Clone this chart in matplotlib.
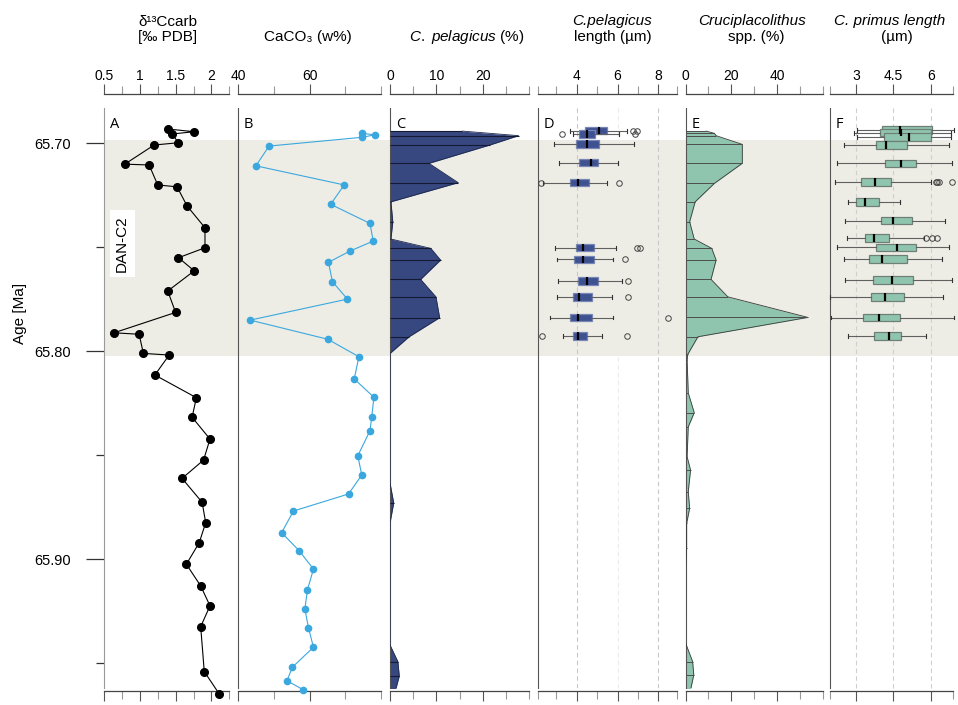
import matplotlib.pyplot as plt

plt.rcParams['font.family'] = ['Liberation Sans', 'DejaVu Sans']
plt.rcParams['mathtext.fontset'] = 'custom'
plt.rcParams['mathtext.rm'] = 'Liberation Sans'
plt.rcParams['mathtext.it'] = 'Liberation Sans:italic'

# ---- A: d13C carb ----
a_age = [65.6931, 65.6944, 65.6955, 65.6997, 65.7008, 65.7100, 65.7104, 65.7200, 65.7209,
         65.7301, 65.7406, 65.7502, 65.7550, 65.7613, 65.7710, 65.7813, 65.7911, 65.7918,
         65.8010, 65.8018, 65.8114, 65.8223, 65.8317, 65.8422, 65.8523, 65.8611, 65.8726,
         65.8824, 65.8920, 65.9024, 65.9128, 65.9224, 65.9324, 65.9540, 65.9648]
a_val = [1.39, 1.76, 1.45, 1.54, 1.20, 0.79, 1.13, 1.25, 1.52, 1.66, 1.91, 1.91, 1.54, 1.76,
         1.39, 1.50, 0.64, 0.99, 1.05, 1.41, 1.21, 1.79, 1.73, 1.98, 1.89, 1.59, 1.87, 1.92,
         1.83, 1.65, 1.85, 1.98, 1.85, 1.90, 2.11]

# ---- B: CaCO3 ----
b_age = [65.6952, 65.6959, 65.6971, 65.7013, 65.7108, 65.7200, 65.7293, 65.7385, 65.7470,
         65.7518, 65.7572, 65.7665, 65.7749, 65.7850, 65.7942, 65.8026, 65.8133, 65.8221,
         65.8314, 65.8382, 65.8502, 65.8595, 65.8686, 65.8768, 65.8872, 65.8959, 65.9047,
         65.9148, 65.9239, 65.9329, 65.9423, 65.9519, 65.9584, 65.9628]
b_val = [74.6, 78.3, 74.6, 48.7, 45.0, 69.7, 65.9, 76.9, 77.8, 71.3, 65.3, 66.4, 70.6, 43.4,
         65.1, 73.8, 72.5, 78.0, 77.4, 76.9, 73.5, 74.6, 70.9, 55.5, 52.2, 57.1, 61.1, 59.4,
         58.7, 59.7, 61.1, 55.2, 53.7, 58.3]

# ---- C: C. pelagicus (%) ----
c_age = [65.6941, 65.6963, 65.7008, 65.7096, 65.7189, 65.7281, 65.7377, 65.7460, 65.7505,
         65.7561, 65.7654, 65.7738, 65.7838, 65.7930, 65.8010, 65.8633, 65.8729, 65.8825,
         65.9412, 65.9492, 65.9561, 65.9628]
c_val = [15.6, 27.7, 21.5, 8.4, 14.7, 0.2, 0.6, 0.2, 8.8, 10.9, 6.6, 9.9, 10.7, 4.1, 0.0,
         0.0, 0.8, 0.0, 0.0, 1.7, 2.0, 1.2]

# ---- D: C. pelagicus length (um) ----
d_age = [65.6939, 65.6955, 65.7003, 65.7093, 65.7189, 65.7502, 65.7558, 65.7661, 65.7738,
         65.7838, 65.7926]
d_lo = [3.67, 3.83, 2.90, 3.15, 2.36, 2.94, 3.02, 3.10, 3.02, 2.69, 3.31]
d_q1 = [4.41, 4.13, 3.96, 4.13, 3.67, 3.95, 3.87, 4.05, 3.83, 3.67, 3.83]
d_med = [5.09, 4.52, 4.49, 4.70, 4.08, 4.33, 4.29, 4.52, 4.13, 4.05, 4.05]
d_q3 = [5.47, 4.90, 5.09, 5.06, 4.59, 4.85, 4.85, 5.04, 4.73, 4.73, 4.50]
d_hi = [6.45, 6.09, 6.81, 6.04, 5.50, 5.93, 5.76, 6.24, 5.71, 5.76, 5.22]
d_out = [[6.77, 6.94], [3.26, 6.86], [], [], [2.23, 6.09], [6.94, 7.10], [6.37], [6.53],
         [6.50], [8.46], [2.32, 6.45]]

# ---- E: Cruciplacolithus spp. (%) ----
e_age = [65.6941, 65.6952, 65.6963, 65.7005, 65.7096, 65.7192, 65.7281, 65.7377, 65.7460,
         65.7505, 65.7561, 65.7654, 65.7738, 65.7837, 65.7930, 65.8014, 65.8042, 65.8200,
         65.8295, 65.8363, 65.8507, 65.8571, 65.8675, 65.8755, 65.8827, 65.8947, 65.9036,
         65.9162, 65.9402, 65.9492, 65.9556, 65.9628]
e_val = [9.0, 12.6, 13.3, 24.7, 24.7, 12.6, 4.2, 1.8, 3.8, 11.4, 13.3, 11.1, 18.4, 53.2,
         5.4, 1.0, 0.7, 1.2, 3.8, 1.2, 0.7, 2.2, 1.2, 1.8, 0.5, 0.5, 0.1, 0.1, 0.0, 3.1,
         3.6, 2.2]

# ---- F: C. primus length (um) ----
f_age = [65.6935, 65.6949, 65.6970, 65.7008, 65.7096, 65.7185, 65.7281, 65.7372, 65.7454,
         65.7500, 65.7556, 65.7656, 65.7738, 65.7838, 65.7926]
f_lo = [3.04, 2.91, 3.04, 2.50, 2.24, 2.15, 2.67, 2.53, 2.64, 2.24, 2.50, 2.56, 1.94, 1.99, 2.67]
f_q1 = [4.04, 3.97, 4.12, 3.81, 4.14, 3.18, 3.00, 4.01, 3.36, 3.81, 3.50, 3.67, 3.58, 3.26, 3.70]
f_med = [4.75, 4.82, 5.11, 4.21, 4.79, 3.74, 3.36, 4.48, 3.70, 4.64, 4.05, 4.45, 4.14, 3.90, 4.33]
f_q3 = [6.07, 6.00, 6.00, 5.04, 5.42, 4.39, 3.92, 5.26, 4.33, 5.39, 5.04, 5.30, 4.91, 4.75, 4.79]
f_hi = [6.94, 6.81, 6.81, 6.74, 6.86, 6.03, 4.75, 6.59, 5.72, 6.74, 6.47, 6.86, 6.50, 6.94, 5.82]
f_out = [[], [], [], [], [], [6.22, 6.27, 6.32, 6.86], [], [], [5.82, 6.05, 6.27], [], [], [],
         [], [], []]

# DAN-C2 interval
band = (65.6984, 65.8023)

W, H = 958, 705
fig = plt.figure(figsize=(W / 100, H / 100), dpi=100)

edges = [104, 238, 390, 538, 685.5, 830, 958]
top_px, bot_px = 108, 688
ylim = (65.9619, 65.6830)


def make_panel(i, xlim, bounds, major, labels, minor, letter):
    x0, x1 = edges[i], edges[i + 1]
    ax = fig.add_axes([x0 / W, 1 - bot_px / H, (x1 - x0) / W, (bot_px - top_px) / H])
    ax.patch.set_alpha(0)
    ax.set_xlim(xlim)
    ax.set_ylim(ylim)
    ax.axhspan(band[0], band[1], color='#eeede5', lw=0, zorder=0)
    ax.spines['right'].set_visible(False)
    ax.spines['left'].set_color('#555555')
    ax.spines['top'].set_position(('outward', 10))
    ax.spines['bottom'].set_position(('outward', 2))
    for s in ['top', 'bottom']:
        ax.spines[s].set_bounds(*bounds)
        ax.spines[s].set_color('#444444')
        ax.spines[s].set_linewidth(0.9)
    ax.set_xticks(major)
    ax.set_xticklabels(labels)
    ax.set_xticks(minor, minor=True)
    ax.tick_params(axis='x', which='both', direction='out', top=True, bottom=True,
                   labeltop=True, labelbottom=False, labelsize=10, pad=1, width=0.8)
    ax.tick_params(axis='x', which='major', length=7, color='#555555')
    ax.tick_params(axis='x', which='minor', length=5.5, color='#999999')
    ax.tick_params(axis='y', which='both', left=False, labelleft=False)
    ax.annotate(letter, xy=(0, 1), xycoords='axes fraction', xytext=(6, -17),
                textcoords='offset pixels', va='center', ha='left', fontsize=10.5,
                family=['Open Sans', 'DejaVu Sans'])
    return ax


axA = make_panel(0, (0.5, 2.371), (0.5, 2.25), [0.5, 1, 1.5, 2], ['0.5', '1', '1.5', '2'],
                 [0.75, 1.25, 1.75, 2.25], 'A')
axB = make_panel(1, (40, 82.5), (40, 80), [40, 60], ['40', '60'], [50, 70, 80], 'B')
axC = make_panel(2, (0, 31.9), (0, 30), [0, 10, 20], ['0', '10', '20'], [5, 15, 25, 30], 'C')
axD = make_panel(3, (2.103, 9.333), (2.103, 8.9), [4, 6, 8], ['4', '6', '8'],
                 [2.103, 3, 5, 7, 8.9], 'D')
axE = make_panel(4, (0, 62.83), (0, 60), [0, 20, 40], ['0', '20', '40'], [10, 30, 50, 60], 'E')
axF = make_panel(5, (1.94, 7.101), (1.94, 6.9), [3, 4.5, 6], ['3', '4.5', '6'], [1.94, 6.9], 'F')

# age axis on the first panel
axA.spines['left'].set_color('#999999')
axA.set_yticks([65.70, 65.80, 65.90])
axA.set_yticklabels(['65.70', '65.80', '65.90'])
axA.set_yticks([65.75, 65.85, 65.95], minor=True)
axA.tick_params(axis='y', which='both', left=True, labelleft=True, labelsize=10.5,
                pad=11, color='#333333', width=0.9)
axA.tick_params(axis='y', which='major', length=13)
axA.tick_params(axis='y', which='minor', length=6)
fig.text(20 / W, 1 - 313 / H, 'Age [Ma]', rotation=90, ha='center', va='center', fontsize=11)

axA.text(0.5 + 18 / 71.6, 65.7482, 'DAN-C2', rotation=90, ha='center', va='center',
         fontsize=11, bbox=dict(facecolor='white', edgecolor='none', pad=4), zorder=4)

# A and B curves
axA.plot(a_val, a_age, '-o', color='black', lw=0.8, ms=5.5, clip_on=False, zorder=3)
axB.plot(b_val, b_age, '-o', color='#3aa8df', lw=0.8, ms=4.5, clip_on=False, zorder=3)

# C and E abundance profiles
axC.fill_betweenx(c_age, 0, c_val, color='#37477f', lw=0, zorder=2)
axC.plot(c_val, c_age, color='#1f2a4d', lw=0.6, zorder=3)
axC.hlines([a for a, v in zip(c_age, c_val) if v > 0], 0,
           [v for v in c_val if v > 0], color='#141a33', lw=0.8, zorder=3)

axE.fill_betweenx(e_age, 0, e_val, color='#8fc5ae', lw=0, zorder=2)
axE.plot(e_val, e_age, color='#3a3a3a', lw=0.6, zorder=3)
axE.hlines([a for a, v in zip(e_age, e_val) if v > 0], 0,
           [v for v in e_val if v > 0], color='#4d4d4d', lw=0.7, zorder=3)

# dashed guides for the size panels
for v, c in [(4, '#c8c8c8'), (6, '#ececec'), (8, '#c8c8c8')]:
    axD.axvline(v, color=c, lw=0.8, ls=(0, (4, 3)), zorder=1)
for v in [3, 4.5, 6]:
    axF.axvline(v, color='#cfcfcf', lw=0.8, ls=(0, (4, 3)), zorder=1)


def boxes(ax, ages, lo, q1, med, q3, hi, out, face, edge):
    stats = [dict(med=m, q1=a, q3=b, whislo=l, whishi=h, fliers=f)
             for l, a, m, b, h, f in zip(lo, q1, med, q3, hi, out)]
    ax.bxp(stats, positions=ages, widths=0.0036, orientation='horizontal',
           patch_artist=True, manage_ticks=False, zorder=3,
           boxprops=dict(facecolor=face, edgecolor=edge, lw=0.9),
           medianprops=dict(color='black', lw=1.6),
           whiskerprops=dict(color='#606060', lw=0.8),
           capprops=dict(color='#333333', lw=0.8),
           flierprops=dict(marker='o', mfc='none', mec='#444444', ms=4, mew=0.7))


boxes(axD, d_age, d_lo, d_q1, d_med, d_q3, d_hi, d_out, '#3e5191', '#7786b5')
boxes(axF, f_age, f_lo, f_q1, f_med, f_q3, f_hi, f_out, '#8fc5ae', '#6f7f78')
for ln in axF.lines:
    ln.set_clip_on(False)

# column headings
def head(x, y, s, **kw):
    fig.text(x / W, 1 - y / H, s, va='center', fontsize=11, **kw)


head(138, 22, 'δ¹³Ccarb', ha='left')
head(138, 37, '[‰ PDB]', ha='left')
head(308, 37, 'CaCO₃ (w%)', ha='center')
head(467, 37, r'$\mathit{C.\ pelagicus}$ (%)', ha='center')
head(612, 21, 'C.pelagicus', ha='center', style='italic')
head(613, 37, 'length (µm)', ha='center')
head(752, 21, 'Cruciplacolithus', ha='center', style='italic')
head(756, 37, 'spp. (%)', ha='center')
head(890, 21, 'C. primus length', ha='center', style='italic')
head(897, 37, '(µm)', ha='center')

fig.savefig('out.png', dpi=100)
